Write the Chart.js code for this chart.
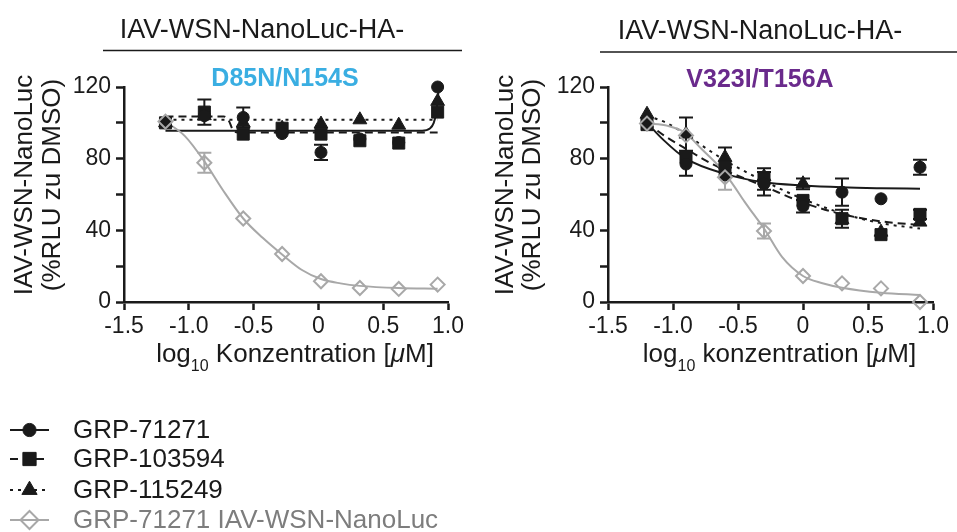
<!DOCTYPE html>
<html>
<head>
<meta charset="utf-8">
<script src="https://cdn.jsdelivr.net/npm/chart.js@4.4.1/dist/chart.umd.min.js"></script>
<style>
  html, body { margin: 0; padding: 0; background: #ffffff; }
  #wrap { position: relative; width: 957px; height: 532px; overflow: hidden; }
  #panelA { position: absolute; left: 0; top: 0; }
  #panelB { position: absolute; left: 480px; top: 0; }
</style>
</head>
<body>
<div id="wrap">
  <canvas id="panelA" width="480" height="532"></canvas>
  <canvas id="panelB" width="477" height="532"></canvas>
</div>
<script>
// ---- labels ----
const groupHeader = 'IAV-WSN-NanoLuc-HA-';
const panelTitles = ['D85N/N154S', 'V323I/T156A'];
const compoundNames = ['GRP-71271', 'GRP-103594', 'GRP-115249', 'GRP-71271 IAV-WSN-NanoLuc'];
const yTitleLines = ['IAV-WSN-NanoLuc', '(%RLU zu DMSO)'];
const xTickValues = [-1.5, -1.0, -0.5, 0, 0.5, 1.0];
const xTickLabels = ['-1.5', '-1.0', '-0.5', '0', '0.5', '1.0'];
const yTickValues = [0, 20, 40, 60, 80, 100, 120];
const yTickLabels = ['0', '', '40', '', '80', '', '120'];

// ---- panel A: D85N/N154S (log10 concentration in µM, % RLU of DMSO) ----
const logDoseA = [-1.18, -0.88, -0.58, -0.28, 0.02, 0.32, 0.62, 0.92];
const grp71271A = [100, 104, 103, 94, 83.5, 91, 89, 120];
const grp71271A_sem = [0, 0, 5.6, 0, 4.2, 0, 0, 0];
const grp103594A = [100, 106, 93.7, 97, 93.7, 90, 88.7, 106];
const grp103594A_sem = [0, 7, 0, 0, 0, 0, 0, 0];
const grp115249A = [100, 104, 100, 97, 99.3, 101.7, 98.7, 112];
const grp115249A_sem = [0, 0, 0, 0, 0, 0, 0, 0];
const wsnA = [100.7, 77.7, 46.6, 26.8, 11.6, 7.8, 7.3, 9.7];
const wsnA_sem = [0, 5.6, 0, 0, 0, 0, 0, 0];
// fitted dose-response curves, [log dose, %]
const fit71271A = [[-1.18, 95.6], [0.8, 95.6], [0.86, 96.8], [0.89, 100], [0.91, 106], [0.92, 113], [0.93, 119.5]];
const fit103594A = [[-1.18, 103.6], [-0.73, 103.6], [-0.69, 101], [-0.66, 96], [-0.62, 94.6], [0.92, 94.6]];
const fit115249A = [[-1.18, 101.7], [0.92, 101.7]];
const fitWsnA = [[-1.18, 100.7], [-1.03, 92.6], [-0.88, 78.5], [-0.74, 62.8], [-0.58, 46.6], [-0.43, 35.8],
                 [-0.28, 26.5], [-0.13, 18], [0.02, 12.8], [0.17, 10.4], [0.32, 9], [0.62, 7.8], [0.92, 7.4]];

// ---- panel B: V323I/T156A ----
const logDoseB = [-1.2, -0.9, -0.6, -0.3, 0.0, 0.3, 0.6, 0.9];
const grp71271B = [100, 77, 71, 66, 53.5, 61.3, 57.6, 75.2];
const grp71271B_sem = [0, 6.5, 0, 6.5, 3.5, 7.6, 0, 4.2];
const grp103594B = [99, 80.7, 75.2, 68.7, 56.7, 46.5, 37.6, 48.9];
const grp103594B_sem = [0, 0, 0, 6, 0, 5, 0, 2.6];
const grp115249B = [104.8, 93.7, 80.7, 70, 66, 46, 39, 44.6];
const grp115249B_sem = [0, 9.3, 5.6, 0, 3, 0, 0, 0];
const wsnB = [99.6, 93, 69.6, 39.6, 14.5, 10.4, 7.6, 0];
const wsnB_sem = [0, 0, 7, 4.2, 0, 0, 0, 0];
const fit71271B = [[-1.2, 100], [-1.08, 90.9], [-0.9, 80], [-0.6, 71.5], [-0.3, 66.8], [0, 65], [0.3, 64], [0.6, 63.5], [0.9, 63.2]];
const fit103594B = [[-1.2, 100], [-1.07, 93], [-0.9, 85.5], [-0.75, 79], [-0.6, 73.5], [-0.3, 64.6], [0, 55.5], [0.3, 49], [0.6, 45], [0.9, 43]];
const fit115249B = [[-1.2, 104], [-1.05, 100], [-0.9, 93.5], [-0.75, 86], [-0.6, 79], [-0.45, 73], [-0.3, 67.5], [0, 57.5], [0.3, 49.5], [0.6, 44], [0.9, 41]];
const fitWsnB = [[-1.2, 99.6], [-1.04, 98.3], [-0.91, 94.6], [-0.78, 85.4], [-0.65, 76], [-0.55, 66.8], [-0.45, 56], [-0.38, 49],
                 [-0.3, 41], [-0.16, 25], [0, 14.5], [0.15, 10.5], [0.3, 8], [0.6, 5.2], [0.9, 3.9]];

// ---- styling ----
const FONT = "'Liberation Sans', Arial, Helvetica, sans-serif";
const INK = '#1a1a1a';
const GREY = '#a8a8a8';
const styles = [
  { shape: 'circle',   r: 6,   fill: INK, stroke: INK, bw: 1, dash: [] },
  { shape: 'rect',     r: 8.5, fill: INK, stroke: INK, bw: 1, dash: [8, 5] },
  { shape: 'triangle', r: 8,   fill: INK, stroke: INK, bw: 1, dash: [3, 5] },
  { shape: 'rectRot',  r: 7,   fill: 'rgba(255,255,255,0)', stroke: GREY, bw: 2, dash: [] }
];

function markerSet(idx, xs, ys, errs) {
  const s = styles[idx];
  return {
    label: compoundNames[idx],
    data: xs.map((x, i) => ({ x, y: ys[i] })),
    errors: errs,
    showLine: false,
    pointStyle: s.shape,
    pointRadius: s.r,
    pointHoverRadius: s.r,
    pointBackgroundColor: s.fill,
    pointBorderColor: s.stroke,
    pointBorderWidth: s.bw,
    borderColor: s.stroke,
    borderDash: s.dash,
    clip: false,
    inLegend: true
  };
}

function fitSet(idx, pts) {
  const s = styles[idx];
  return {
    label: compoundNames[idx] + ' fit',
    data: pts.map(([x, y]) => ({ x, y })),
    showLine: true,
    pointRadius: 0,
    pointHoverRadius: 0,
    borderColor: s.stroke,
    borderWidth: 2,
    borderDash: s.dash,
    cubicInterpolationMode: 'monotone',
    fill: false,
    clip: false
  };
}

// vertical error bars with caps, positioned via the y scale
const errorBars = {
  id: 'errorBars',
  beforeDatasetsDraw(chart) {
    const ctx = chart.ctx;
    const ys = chart.scales.y;
    chart.data.datasets.forEach((ds, di) => {
      if (!ds.errors) return;
      const meta = chart.getDatasetMeta(di);
      ctx.save();
      ctx.strokeStyle = ds.borderColor;
      ctx.lineWidth = 2;
      ctx.setLineDash([]);
      meta.data.forEach((pt, i) => {
        const e = ds.errors[i];
        if (!e) return;
        const v = ds.data[i].y;
        const yt = ys.getPixelForValue(v + e);
        const yb = ys.getPixelForValue(v - e);
        ctx.beginPath();
        ctx.moveTo(pt.x, yt); ctx.lineTo(pt.x, yb);
        ctx.moveTo(pt.x - 7, yt); ctx.lineTo(pt.x + 7, yt);
        ctx.moveTo(pt.x - 7, yb); ctx.lineTo(pt.x + 7, yb);
        ctx.stroke();
      });
      ctx.restore();
    });
  }
};

// header, panel title, axis titles and (optionally) the series key
const decor = {
  id: 'decor',
  afterDraw(chart, args, o) {
    const ctx = chart.ctx;
    const ca = chart.chartArea;
    ctx.save();
    ctx.setLineDash([]);

    // group header with rule below
    ctx.fillStyle = INK;
    ctx.textAlign = 'center';
    ctx.textBaseline = 'alphabetic';
    ctx.font = `27px ${FONT}`;
    ctx.fillText(groupHeader, o.headerX, o.headerY);
    ctx.strokeStyle = INK;
    ctx.lineWidth = 1.5;
    ctx.beginPath();
    ctx.moveTo(o.ruleX1, o.ruleY);
    ctx.lineTo(o.ruleX2, o.ruleY);
    ctx.stroke();

    // mutant name
    ctx.font = `bold 25px ${FONT}`;
    ctx.fillStyle = o.subColor;
    ctx.fillText(o.subtitle, o.subX, o.subY);

    // y axis title, two rotated lines
    ctx.fillStyle = INK;
    ctx.font = `26px ${FONT}`;
    ctx.textBaseline = 'middle';
    yTitleLines.forEach((line, i) => {
      ctx.save();
      ctx.translate(o.yTitleX[i], o.yTitleY);
      ctx.rotate(-Math.PI / 2);
      ctx.fillText(line, 0, 0);
      ctx.restore();
    });

    // x axis title: log10 with subscript, italic mu
    const parts = [
      { t: 'log', f: `26px ${FONT}`, dy: 0 },
      { t: '10', f: `16px ${FONT}`, dy: 9 },
      { t: ' ' + o.xWord + ' [', f: `26px ${FONT}`, dy: 0 },
      { t: 'μ', f: `italic 26px ${FONT}`, dy: 0 },
      { t: 'M]', f: `26px ${FONT}`, dy: 0 }
    ];
    let total = 0;
    parts.forEach(p => { ctx.font = p.f; p.w = ctx.measureText(p.t).width; total += p.w; });
    let x = (ca.left + ca.right) / 2 + o.xTitleDx - total / 2;
    ctx.textAlign = 'left';
    ctx.textBaseline = 'alphabetic';
    parts.forEach(p => {
      ctx.font = p.f;
      ctx.fillText(p.t, x, o.xTitleY + p.dy);
      x += p.w;
    });

    // series key
    if (o.legend) {
      const sets = chart.data.datasets.filter(d => d.inLegend);
      const order = [1, 2, 3, 0];
      order.forEach((di, row) => {
        const ds = sets[di];
        const y = o.legendRows[row];
        ctx.strokeStyle = ds.borderColor;
        ctx.lineWidth = 2;
        ctx.setLineDash(ds.borderDash || []);
        ctx.beginPath();
        ctx.moveTo(o.legendX1, y);
        ctx.lineTo(o.legendX2, y);
        ctx.stroke();
        ctx.setLineDash([]);
        ctx.fillStyle = ds.pointBackgroundColor;
        ctx.strokeStyle = ds.pointBorderColor;
        ctx.lineWidth = ds.pointBorderWidth;
        Chart.helpers.drawPoint(ctx, {
          pointStyle: ds.pointStyle,
          radius: ds.pointStyle === 'rectRot' ? 9 : ds.pointRadius * 1.1,
          borderWidth: ds.pointBorderWidth,
          rotation: 0
        }, (o.legendX1 + o.legendX2) / 2, y);
        ctx.fillStyle = ds.pointStyle === 'rectRot' ? '#7d7d7d' : INK;
        ctx.font = `26px ${FONT}`;
        ctx.textAlign = 'left';
        ctx.textBaseline = 'middle';
        ctx.fillText(ds.label, o.legendTextX, y + 1);
      });
    }
    ctx.restore();
  }
};

function makePanel(canvasId, p) {
  const datasets = [
    markerSet(3, p.dose, p.wsn, p.wsnErr),
    markerSet(0, p.dose, p.c1, p.c1Err),
    markerSet(1, p.dose, p.c2, p.c2Err),
    markerSet(2, p.dose, p.c3, p.c3Err),
    fitSet(3, p.fitWsn),
    fitSet(0, p.fit1),
    fitSet(1, p.fit2),
    fitSet(2, p.fit3)
  ];
  return new Chart(document.getElementById(canvasId), {
    type: 'scatter',
    data: { datasets },
    plugins: [errorBars, decor],
    options: {
      responsive: false,
      animation: false,
      devicePixelRatio: 1,
      layout: { padding: { left: 0, right: p.padRight, top: 87, bottom: 190 } },
      plugins: {
        legend: { display: false },
        tooltip: { enabled: false },
        decor: p.decor
      },
      scales: {
        x: {
          type: 'linear',
          min: -1.5,
          max: 1.0,
          afterFit: s => { s.height = 40; },
          afterBuildTicks: s => { s.ticks = xTickValues.map(v => ({ value: v })); },
          ticks: {
            autoSkip: false,
            maxRotation: 0,
            padding: 3,
            color: INK,
            font: { family: FONT, size: 23 },
            callback: (v, i) => xTickLabels[i]
          },
          grid: { drawOnChartArea: false, drawTicks: true, tickLength: 8, tickWidth: 2.5, tickColor: INK },
          border: { display: true, color: INK, width: 2.5 }
        },
        y: {
          type: 'linear',
          min: 0,
          max: 120,
          afterFit: s => { s.width = p.yWidth; },
          afterBuildTicks: s => { s.ticks = yTickValues.map(v => ({ value: v })); },
          ticks: {
            autoSkip: false,
            padding: 5,
            color: INK,
            font: { family: FONT, size: 23 },
            callback: (v, i) => yTickLabels[i]
          },
          grid: { drawOnChartArea: false, drawTicks: true, tickLength: 8, tickWidth: 2.5, tickColor: INK },
          border: { display: true, color: INK, width: 2.5 }
        }
      }
    }
  });
}

makePanel('panelA', {
  dose: logDoseA,
  c1: grp71271A, c1Err: grp71271A_sem,
  c2: grp103594A, c2Err: grp103594A_sem,
  c3: grp115249A, c3Err: grp115249A_sem,
  wsn: wsnA, wsnErr: wsnA_sem,
  fit1: fit71271A, fit2: fit103594A, fit3: fit115249A, fitWsn: fitWsnA,
  yWidth: 124,
  padRight: 32,
  decor: {
    headerX: 262, headerY: 38, ruleX1: 103, ruleX2: 462, ruleY: 50.5,
    subtitle: panelTitles[0], subColor: '#3aaee2', subX: 285, subY: 86,
    yTitleX: [25, 53], yTitleY: 185,
    xWord: 'Konzentration', xTitleDx: 9, xTitleY: 362,
    legend: true, legendRows: [430, 459, 490, 520], legendX1: 10, legendX2: 49, legendTextX: 73
  }
});

makePanel('panelB', {
  dose: logDoseB,
  c1: grp71271B, c1Err: grp71271B_sem,
  c2: grp103594B, c2Err: grp103594B_sem,
  c3: grp115249B, c3Err: grp115249B_sem,
  wsn: wsnB, wsnErr: wsnB_sem,
  fit1: fit71271B, fit2: fit103594B, fit3: fit115249B, fitWsn: fitWsnB,
  yWidth: 128,
  padRight: 24,
  decor: {
    headerX: 280, headerY: 39, ruleX1: 120, ruleX2: 477, ruleY: 52,
    subtitle: panelTitles[1], subColor: '#6a2a8c', subX: 280, subY: 87,
    yTitleX: [26, 53], yTitleY: 185,
    xWord: 'konzentration', xTitleDx: 9, xTitleY: 362,
    legend: false
  }
});
</script>
</body>
</html>
